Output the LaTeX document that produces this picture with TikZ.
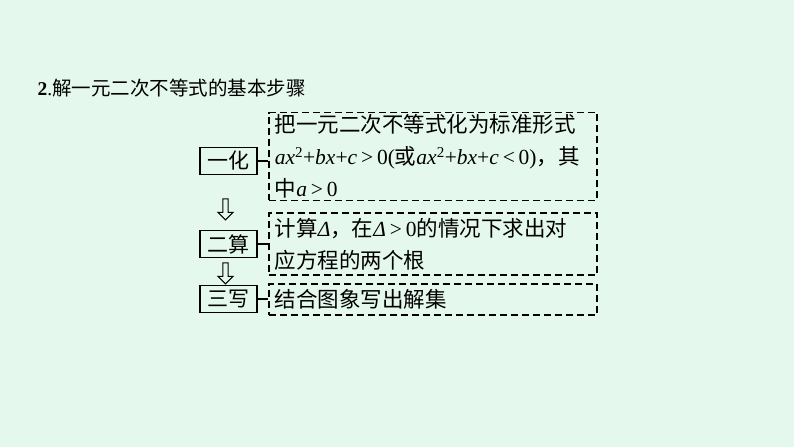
\documentclass[tikz,border=0pt]{standalone}
\usepackage{fontspec}
\setmainfont{Noto Sans CJK SC}
\newfontfamily\lat{Liberation Serif}
\usetikzlibrary{shapes.arrows}
\definecolor{bgmint}{RGB}{229,248,237}
\newcommand{\mi}[1]{{\lat\itshape #1}}
\newcommand{\mr}[1]{{\lat #1}}
\newcommand{\rel}[1]{\kern0.18em{\lat #1}\kern0.18em}
\tikzset{
  stepbox/.style={draw, line width=1.6pt, minimum width=57pt, minimum height=27pt, inner sep=0pt, font=\fontsize{21}{24}\selectfont},
  notebox/.style={draw, line width=1.6pt, dash pattern=on 7pt off 4pt, anchor=west, minimum width=328pt, text width=316pt, align=left, inner xsep=6pt, inner ysep=2pt, font=\fontsize{21.5}{32}\selectfont},
  hollow/.style={draw, line width=1pt, single arrow, shape border rotate=270, minimum height=21pt, minimum width=15pt, single arrow head extend=3.5pt, inner sep=1.5pt}
}
\begin{document}
\begin{tikzpicture}[x=1pt,y=1pt]
        %background
        \fill[bgmint] (0,0) rectangle (794,-447);
        \useasboundingbox (0,0) rectangle (794,-447);

        %title
        \node[anchor=west, font=\fontsize{19.5}{24}\selectfont] (title) at (34,-88) {{\lat\bfseries 2}\mr{.}解一元二次不等式的基本步骤};

        %steps
        \node[stepbox] (yh) at (228.5,-161) {一化};
        \node[stepbox] (es) at (228.5,-244) {二算};
        \node[stepbox] (sx) at (228.5,-299) {三写};

        %notes
        \node[notebox, minimum height=83pt] (n1) at (268,-156.5) {\mbox{把一元二次不等式化为标准形式}\\
          \mbox{\mi{ax}\textsuperscript{\mr{2}}\mr{+}\mi{bx}\mr{+}\mi{c}\rel{>}\mr{0(}或\mi{ax}\textsuperscript{\mr{2}}\mr{+}\mi{bx}\mr{+}\mi{c}\rel{<}\mr{0)}，其}\\
          \mbox{中\mi{a}\rel{>}\mr{0}}};
        \node[notebox, minimum height=62pt] (n2) at (268,-244) {\mbox{计算\mi{Δ}，在\mi{Δ}\rel{>}\mr{0}的情况下求出对}\\
          \mbox{应方程的两个根}};
        \node[notebox, minimum height=31pt] (n3) at (268,-299.5) {结合图象写出解集};

        %links
        \draw[line width=1.6pt] (yh.east) -- (yh.east -| n1.west);
        \draw[line width=1.6pt] (es.east) -- (es.east -| n2.west);
        \draw[line width=1.6pt] (sx.east) -- (sx.east -| n3.west);

        %arrows
        \node[hollow] (a1) at (225.5,-208) {};
        \node[hollow] (a2) at (225.5,-272) {};
\end{tikzpicture}
\end{document}
